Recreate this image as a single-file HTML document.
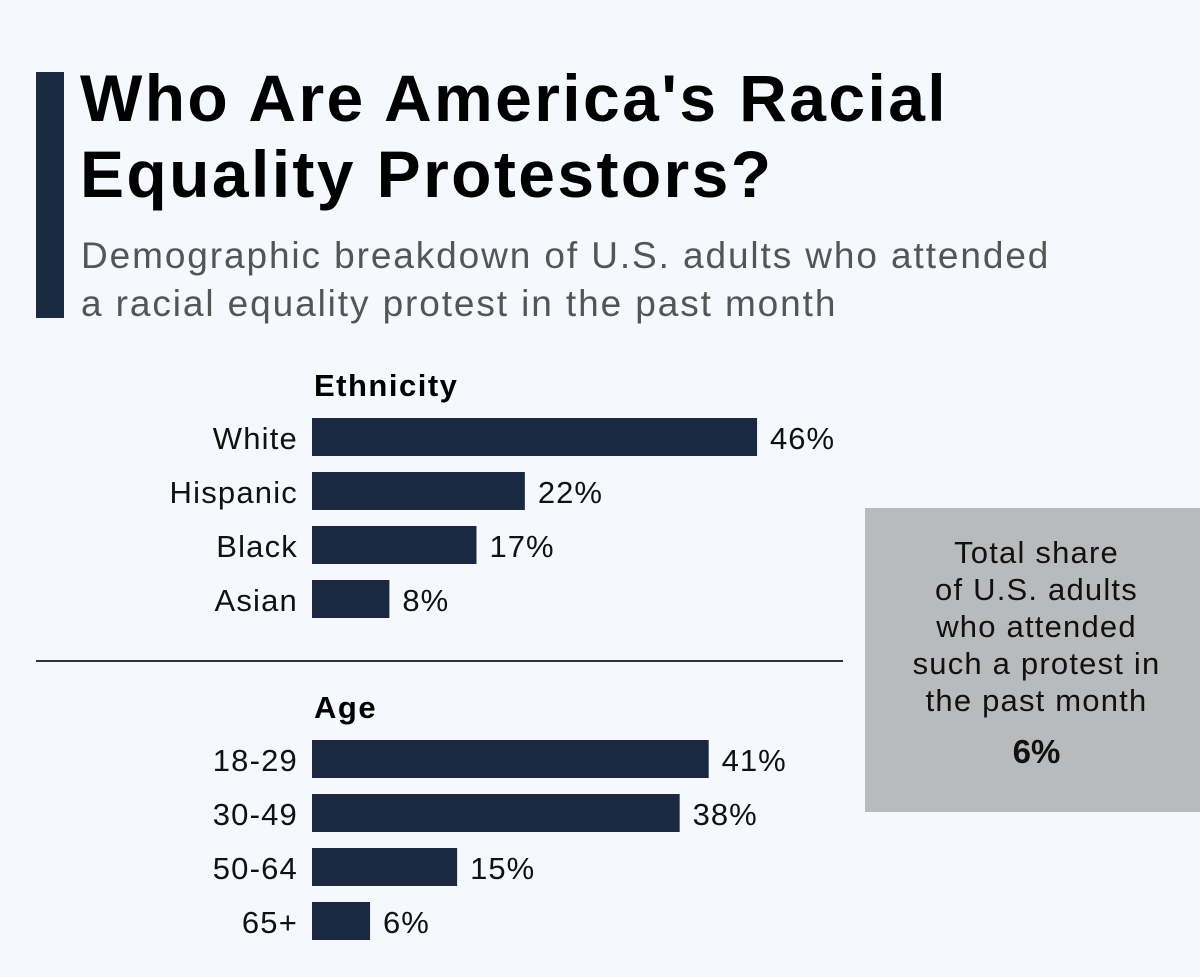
<!DOCTYPE html>
<html><head><meta charset="utf-8"><style>
body{margin:0;width:1200px;height:977px;background:#f5f8fc;font-family:"Liberation Sans",sans-serif;position:relative;overflow:hidden}
.abs{position:absolute}
</style></head><body>
<div class="abs" style="left:36px;top:72px;width:28px;height:246px;background:#1a2a42"></div>
<div class="abs" style="left:80px;top:60px;font-size:66px;font-weight:bold;line-height:76px;color:#000;letter-spacing:2.4px">Who Are America's Racial<br>Equality Protestors?</div>
<div class="abs" style="left:81px;top:232px;font-size:37px;line-height:48px;color:#555;letter-spacing:1.9px">Demographic breakdown of U.S. adults who attended<br>a racial equality protest in the past month</div>
<div class="abs" style="left:36px;top:660px;width:807px;height:2px;background:#333"></div>
<div class="abs" style="left:865px;top:508px;width:335px;height:304px;background:#b9babb;text-align:center;color:#111">
<div style="margin-top:26px;font-size:31px;line-height:37px;letter-spacing:1.2px;padding-left:8px">Total share<br>of U.S. adults<br>who attended<br>such a protest in<br>the past month</div>
<div style="margin-top:14px;font-size:33px;font-weight:bold;padding-left:8px">6%</div>
</div>
<svg class="abs" style="left:0;top:0" width="1200" height="977" id="chart"></svg>
<script>
const ethCats=["White","Hispanic","Black","Asian"];
const ethVals=[46,22,17,8];
const ageCats=["18-29","30-49","50-64","65+"];
const ageVals=[41,38,15,6];
const svg=document.getElementById('chart');
const NS='http://www.w3.org/2000/svg';
const x0=312,scale=9.675,barH=38,step=54;
function xw(v){return v*scale;}
function group(title,titleY,cats,vals,top,key){
  const t=document.createElementNS(NS,'text');
  t.setAttribute('x',314);t.setAttribute('y',titleY);
  t.setAttribute('font-size','31');t.setAttribute('font-weight','bold');t.setAttribute('fill','#000');t.setAttribute('letter-spacing','1.5');
  t.textContent=title;
  
  
  svg.appendChild(t);
  cats.forEach((c,i)=>{
    const y=top+i*step;
    const r=document.createElementNS(NS,'rect');
    r.setAttribute('x',x0);r.setAttribute('y',y);r.setAttribute('width',xw(vals[i]));r.setAttribute('height',barH);r.setAttribute('fill','#1a2841');
    
    
    svg.appendChild(r);
    const l=document.createElementNS(NS,'text');
    l.setAttribute('x',298);l.setAttribute('y',y+31);l.setAttribute('text-anchor','end');l.setAttribute('font-size','31');l.setAttribute('fill','#111');l.setAttribute('letter-spacing','1.2');
    l.textContent=c;
    
    
    svg.appendChild(l);
    const v=document.createElementNS(NS,'text');
    v.setAttribute('x',x0+xw(vals[i])+13);v.setAttribute('y',y+31);v.setAttribute('font-size','31');v.setAttribute('fill','#111');v.setAttribute('letter-spacing','1');
    v.textContent=vals[i]+'%';
    
    
    svg.appendChild(v);
  });
}
group('Ethnicity',396,ethCats,ethVals,418,'ethnicity');
group('Age',718,ageCats,ageVals,740,'age');
</script>
</body></html>
